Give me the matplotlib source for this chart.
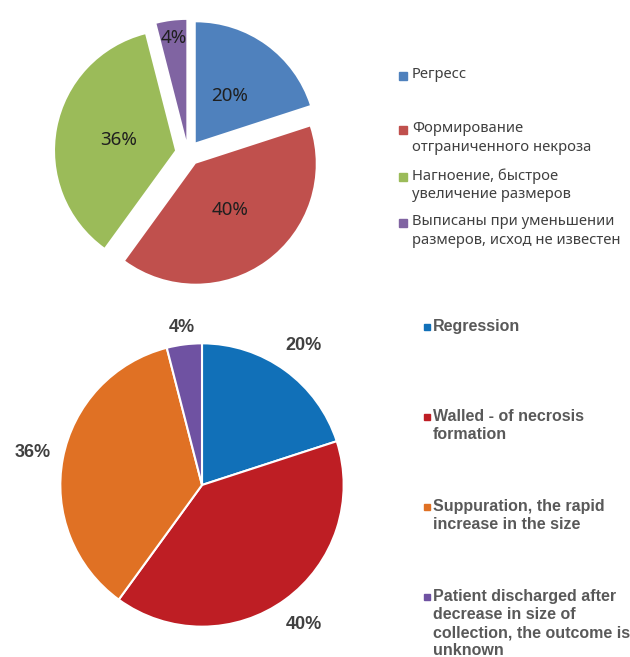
#!/usr/bin/env python3
# -*- coding: utf-8 -*-

import matplotlib
matplotlib.use("Agg")
import matplotlib.pyplot as plt
from matplotlib.patches import Rectangle
import numpy as np

# data
shares = [20, 40, 36, 4]
labels_ru = [
    "Регресс",
    "Формирование\nотграниченного некроза",
    "Нагноение, быстрое\nувеличение размеров",
    "Выписаны при уменьшении\nразмеров, исход не известен",
]
labels_en = [
    "Regression",
    "Walled - of necrosis\nformation",
    "Suppuration, the rapid\nincrease in the size",
    "Patient discharged after\ndecrease in size of\ncollection, the outcome is\nunknown",
]
colors_ru = ["#4F81BD", "#C0504D", "#9BBB59", "#8064A2"]
colors_en = ["#1170B8", "#BE1E24", "#E07124", "#6F52A2"]

W, H = 630, 657
fig = plt.figure(figsize=(W / 100, H / 100), dpi=100)
fig.patch.set_facecolor("white")


def px_axes(cx, cy, size):
    # square axes centred on pixel (cx, cy) measured from the top-left
    return fig.add_axes([(cx - size / 2) / W, (H - cy - size / 2) / H, size / W, size / H])


# ---- top pie (exploded, russian legend)
ax1 = px_axes(188, 153, 300)
wedges, _, auto = ax1.pie(
    shares, colors=colors_ru, startangle=90, counterclock=False,
    explode=[0.11] * 4, autopct="%1.0f%%", pctdistance=0.48,
    wedgeprops=dict(linewidth=0),
    textprops=dict(fontsize=13.5, color="#1f1f1f", family="Noto Sans"),
)
# small slice label sits further out
w = wedges[3]
ang = np.deg2rad((w.theta1 + w.theta2) / 2)
cx, cy = w.center
auto[3].set_position((cx + 0.86 * np.cos(ang), cy + 0.86 * np.sin(ang)))
ax1.set_xlim(-1.25, 1.25)
ax1.set_ylim(-1.25, 1.25)
ax1.set_aspect("equal")
ax1.axis("off")

# ---- bottom pie (english legend)
ax2 = px_axes(202, 485, 340)
wedges2, _, auto2 = ax2.pie(
    shares, colors=colors_en, startangle=90, counterclock=False,
    autopct="%1.0f%%", pctdistance=1.22,
    wedgeprops=dict(linewidth=1.5, edgecolor="white"),
    textprops=dict(fontsize=13, color="#404040", fontweight="bold",
                   family="Liberation Sans"),
)
w = wedges2[3]
ang = np.deg2rad((w.theta1 + w.theta2) / 2)
auto2[3].set_position((1.12 * np.cos(ang), 1.12 * np.sin(ang)))
ax2.set_xlim(-1.2, 1.2)
ax2.set_ylim(-1.2, 1.2)
ax2.set_aspect("equal")
ax2.axis("off")

# ---- legends drawn by hand to keep the uneven spacing
ru_y = [76, 130, 177, 223]
en_y = [327, 417, 507, 597]

for lab, col, y in zip(labels_ru, colors_ru, ru_y):
    fig.patches.append(Rectangle((399 / W, (H - y - 4) / H), 8 / W, 8 / H,
                                 transform=fig.transFigure, color=col))
    fig.text(412 / W, (H - y + 9) / H, lab, ha="left", va="top",
             fontsize=10.6, color="#404040", family="Noto Sans", linespacing=1.35)

for lab, col, y in zip(labels_en, colors_en, en_y):
    fig.patches.append(Rectangle((424 / W, (H - y - 3) / H), 6 / W, 6 / H,
                                 transform=fig.transFigure, color=col))
    fig.text(433 / W, (H - y + 8) / H, lab, ha="left", va="top",
             fontsize=11.5, color="#595959", fontweight="bold",
             family="Liberation Sans", linespacing=1.25)

fig.savefig("out.png", dpi=100, facecolor="white")
